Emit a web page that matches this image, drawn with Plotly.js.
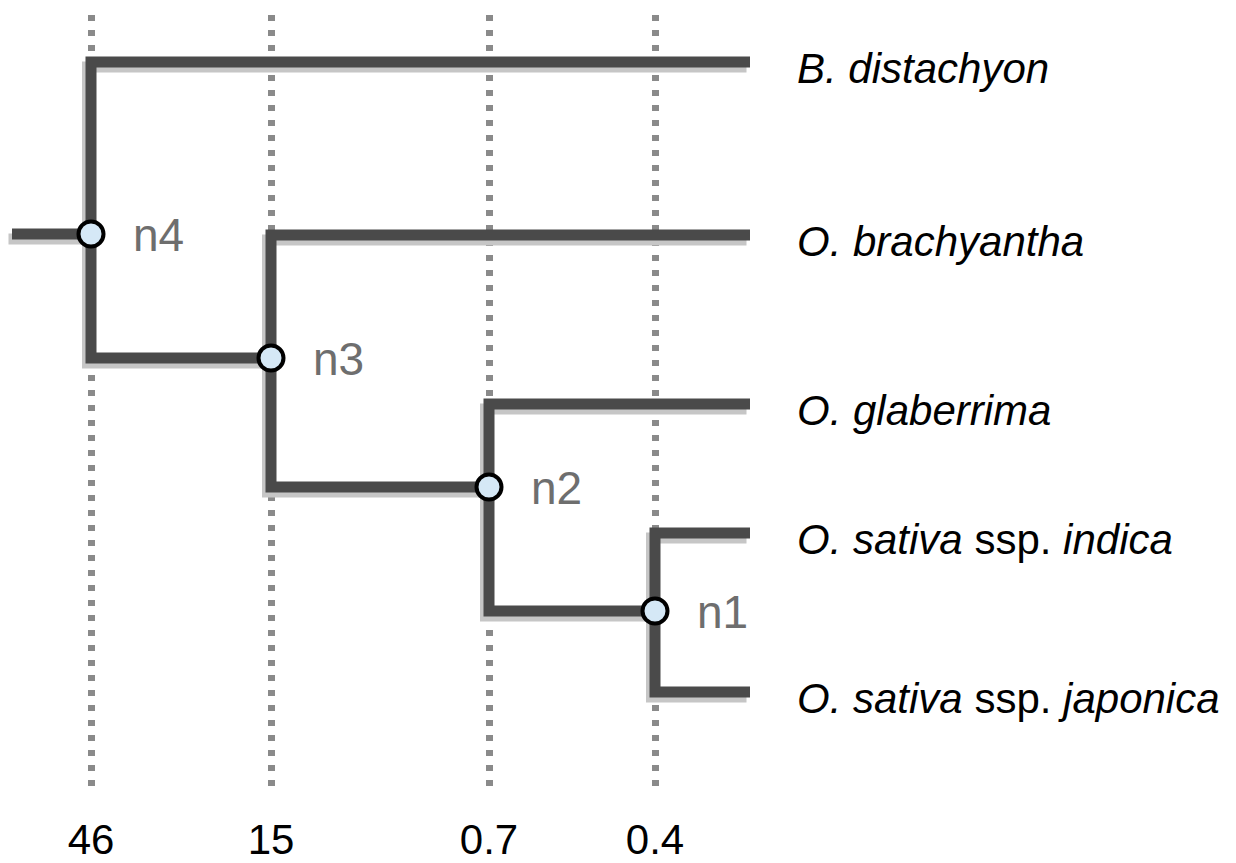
<!DOCTYPE html>
<html>
<head>
<meta charset="utf-8">
<script src="https://cdn.plot.ly/plotly-3.0.1.min.js"></script>
<style>html,body{margin:0;padding:0;background:#fff;}#chart{width:1236px;height:863px;}</style>
</head>
<body>
<div id="chart"></div>
<script>
// ---- data ----
// leaves, top to bottom
var leafNames = ["<i>B. distachyon</i>", "<i>O. brachyantha</i>", "<i>O. glaberrima</i>",
                 "<i>O. sativa</i> ssp. <i>indica</i>", "<i>O. sativa</i> ssp. <i>japonica</i>"];
var leafY = [0.62, 2.35, 4.04, 5.33, 6.92];
var tipX = 7.50;

// internal nodes
var nodeNames = ["n1", "n2", "n3", "n4"];
var nodeAge = ["0.4", "0.7", "15", "46"];      // divergence times (axis tick labels)
var nodeX = [6.55, 4.89, 2.71, 0.91];
var nodeY = [6.11, 4.87, 3.58, 2.34];
// children of each node: ["L", leafIndex] or ["N", nodeIndex]
var nodeChildren = [
  [["L", 3], ["L", 4]],
  [["L", 2], ["N", 0]],
  [["L", 1], ["N", 1]],
  [["L", 0], ["N", 2]]
];
var rootX = 0.12;

// ---- build tree paths ----
function childPos(c) {
  return c[0] === "L" ? [tipX, leafY[c[1]]] : [nodeX[c[1]], nodeY[c[1]]];
}
var px = [], py = [];
for (var i = 0; i < nodeNames.length; i++) {
  var a = childPos(nodeChildren[i][0]), b = childPos(nodeChildren[i][1]);
  px.push(a[0], nodeX[i], nodeX[i], b[0], null);
  py.push(a[1], a[1], b[1], b[1], null);
}
// root stub
px.push(rootX, nodeX[3], null);
py.push(nodeY[3], nodeY[3], null);

// shadow offset (px -> data units, 100 px per unit)
var sdx = -0.035, sdy = 0.05;
var sx = px.map(function (v) { return v === null ? null : v + sdx; });
var sy = py.map(function (v) { return v === null ? null : v + sdy; });

var traces = [
  { x: sx, y: sy, mode: "lines", line: { color: "#c6c6c6", width: 11 },
    hoverinfo: "skip", showlegend: false, cliponaxis: false },
  { x: px, y: py, mode: "lines", line: { color: "#4a4a4a", width: 11 },
    hoverinfo: "skip", showlegend: false, cliponaxis: false },
  { x: nodeX, y: nodeY, mode: "markers", text: nodeNames,
    marker: { size: 25, color: "#d5e8f6", line: { color: "#000000", width: 4 } },
    showlegend: false, cliponaxis: false }
];

var annotations = [];
for (var j = 0; j < nodeNames.length; j++) {
  annotations.push({ x: nodeX[j], y: nodeY[j], text: nodeNames[j], showarrow: false,
    xanchor: "left", yanchor: "middle", xshift: 40, yshift: -1,
    font: { family: "Liberation Sans, Arial, sans-serif", size: 46, color: "#6e6e6e" } });
}
for (var k = 0; k < leafNames.length; k++) {
  annotations.push({ x: tipX, y: leafY[k], text: leafNames[k], showarrow: false,
    xanchor: "left", yanchor: "middle", xshift: 45, yshift: -6,
    font: { family: "Liberation Sans, Arial, sans-serif", size: 42, color: "#000000" } });
}

var layout = {
  width: 1236, height: 863,
  margin: { l: 0, r: 0, t: 15, b: 75, pad: 0 },
  paper_bgcolor: "#ffffff", plot_bgcolor: "#ffffff",
  showlegend: false,
  xaxis: {
    range: [0, 12.36], fixedrange: true,
    tickmode: "array", tickvals: nodeX, ticktext: nodeAge,
    showgrid: true, gridcolor: "#8a8a8a", gridwidth: 7, griddash: "6px,9px",
    zeroline: false, showline: false, ticks: "",
    ticklabelstandoff: 23,
    tickfont: { family: "Liberation Sans, Arial, sans-serif", size: 42, color: "#000000" }
  },
  yaxis: {
    range: [7.88, 0.15], fixedrange: true,
    showgrid: false, zeroline: false, showline: false, showticklabels: false, ticks: ""
  },
  annotations: annotations
};

Plotly.newPlot("chart", traces, layout, { displayModeBar: false, staticPlot: true });
</script>
</body>
</html>
